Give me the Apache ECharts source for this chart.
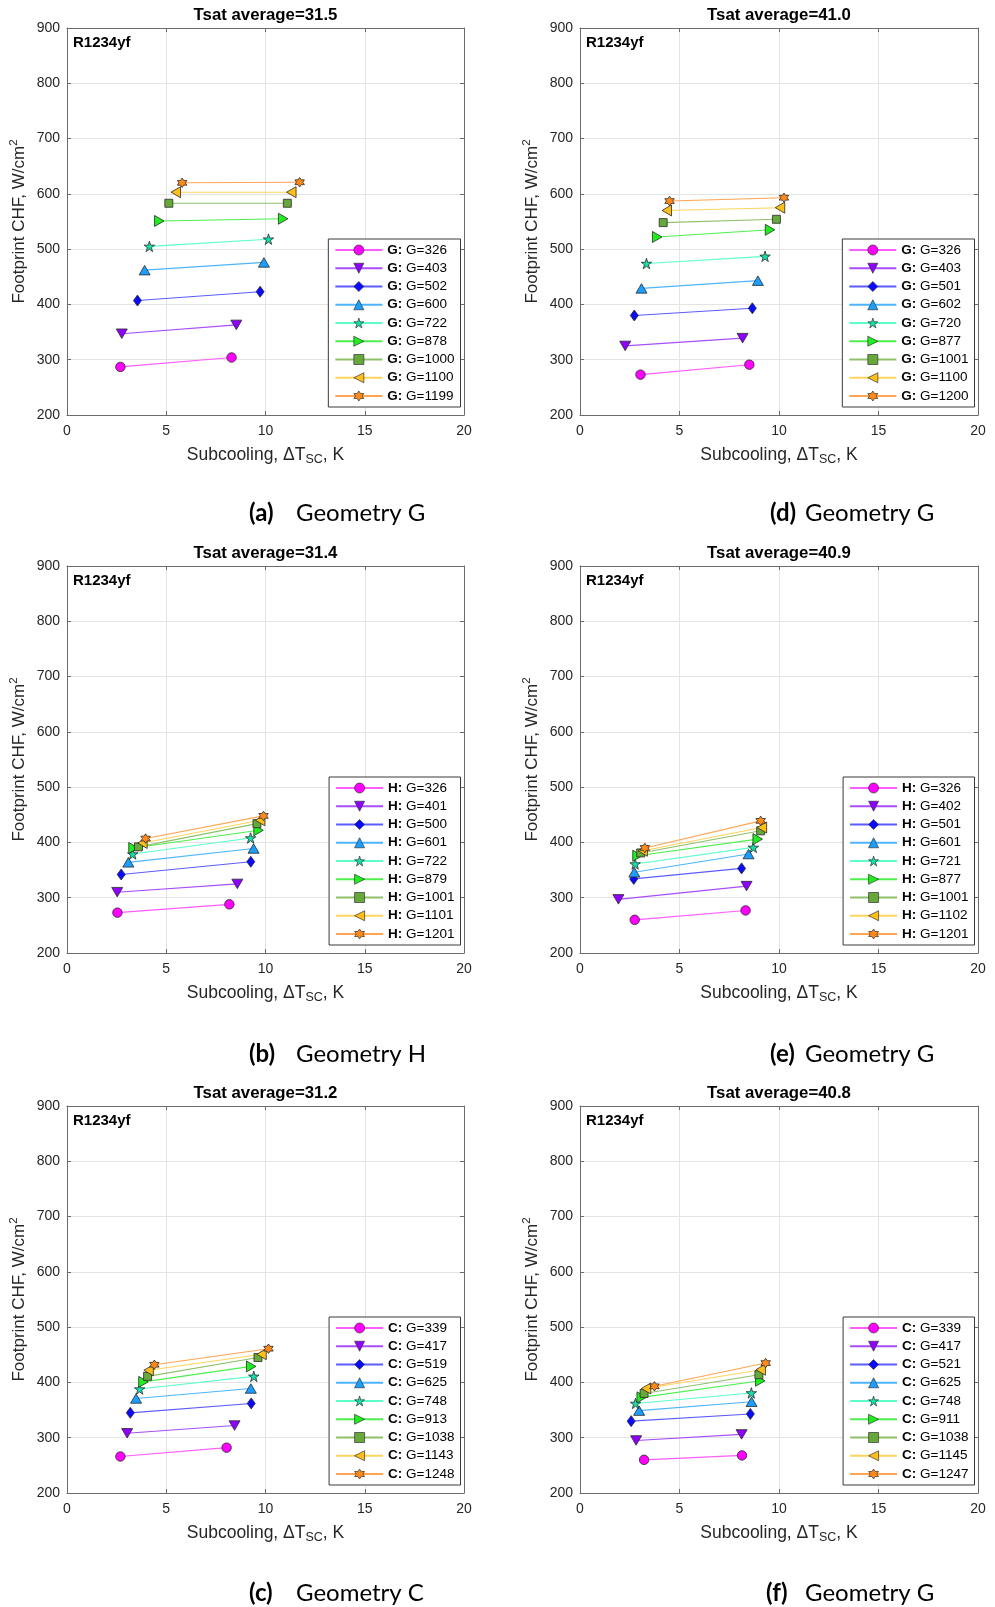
<!DOCTYPE html>
<html>
<head>
<meta charset="utf-8">
<script src="https://cdn.jsdelivr.net/npm/echarts@6/dist/echarts.min.js"></script>
<style>
html,body{margin:0;padding:0;background:#fff;}
#chart{width:995px;height:1607px;}
</style>
</head>
<body>
<div id="chart"></div>
<script>
// ---------------- DATA ----------------
// Panel (a): Geometry G, Tsat average = 31.5
const gA     = [326, 403, 502, 600, 722, 878, 1000, 1100, 1199];
const xLowA  = [2.69, 2.76, 3.55, 3.91, 4.15, 4.65, 5.13, 5.48, 5.80];
const yLowA  = [287, 347, 407, 462, 505, 551, 583, 603, 620];
const xHighA = [8.29, 8.53, 9.73, 9.92, 10.15, 10.89, 11.10, 11.30, 11.72];
const yHighA = [304, 363, 423, 476, 518, 555, 583, 603, 621];

// Panel (d): Geometry G, Tsat average = 41.0
const gD     = [326, 403, 501, 602, 720, 877, 1001, 1100, 1200];
const xLowD  = [3.04, 2.27, 2.73, 3.09, 3.34, 3.88, 4.18, 4.36, 4.50];
const yLowD  = [273, 325, 380, 429, 474, 522, 548, 570, 587];
const xHighD = [8.51, 8.17, 8.66, 8.94, 9.30, 9.55, 9.87, 10.05, 10.25];
const yHighD = [291, 339, 393, 443, 487, 535, 554, 575, 593];

// Panel (b): Geometry H, Tsat average = 31.4
const gB     = [326, 401, 500, 601, 722, 879, 1001, 1101, 1201];
const xLowB  = [2.54, 2.53, 2.73, 3.09, 3.31, 3.35, 3.60, 3.80, 3.96];
const yLowB  = [273, 310, 342, 364, 379, 390, 392, 399, 407];
const xHighB = [8.18, 8.58, 9.26, 9.40, 9.25, 9.65, 9.57, 9.73, 9.90];
const yHighB = [288, 325, 365, 389, 408, 422, 434, 440, 448];

// Panel (e): Geometry H, Tsat average = 40.9
const gE     = [326, 402, 501, 601, 721, 877, 1001, 1102, 1201];
const xLowE  = [2.75, 1.93, 2.70, 2.73, 2.77, 2.89, 3.05, 3.15, 3.26];
const yLowE  = [260, 297, 334, 346, 361, 376, 381, 385, 390];
const xHighE = [8.32, 8.37, 8.12, 8.47, 8.71, 8.93, 9.08, 9.14, 9.08];
const yHighE = [277, 321, 353, 379, 391, 406, 421, 427, 439];

// Panel (c): Geometry C, Tsat average = 31.2
const gC     = [339, 417, 519, 625, 748, 913, 1038, 1143, 1248];
const xLowC  = [2.69, 3.03, 3.19, 3.48, 3.66, 3.85, 4.06, 4.11, 4.40];
const yLowC  = [266, 308, 345, 371, 388, 401, 411, 422, 432];
const xHighC = [8.04, 8.44, 9.28, 9.26, 9.41, 9.28, 9.62, 9.80, 10.15];
const yHighC = [282, 322, 362, 389, 411, 429, 445, 451, 461];

// Panel (f): Geometry C, Tsat average = 40.8
const gF     = [339, 417, 521, 625, 748, 911, 1038, 1145, 1247];
const xLowF  = [3.22, 2.82, 2.57, 2.97, 2.79, 3.10, 3.22, 3.32, 3.74];
const yLowF  = [260, 295, 330, 349, 362, 373, 380, 389, 393];
const xHighF = [8.14, 8.12, 8.56, 8.62, 8.61, 9.06, 8.99, 9.08, 9.33];
const yHighF = [268, 306, 343, 365, 381, 403, 414, 423, 435];

const titlesT   = ['Tsat average=31.5', 'Tsat average=41.0', 'Tsat average=31.4', 'Tsat average=40.9', 'Tsat average=31.2', 'Tsat average=40.8'];
const geomCodes = ['G', 'G', 'H', 'H', 'C', 'C'];
const capLabels = ['(a)', '(d)', '(b)', '(e)', '(c)', '(f)'];
const capNames  = ['Geometry G', 'Geometry G', 'Geometry H', 'Geometry G', 'Geometry C', 'Geometry G'];
const fluidLabel = 'R1234yf';
const xTicks = {min: 0, max: 20, step: 5};
const yTicks = {min: 200, max: 900, step: 100};

// ---------------- STYLE ----------------
const markerColors = ['#ff00ff', '#8f00ff', '#0a0aff', '#1a9fff', '#14e0a8', '#1ef01e', '#66a83a', '#ffbf1a', '#ff8a1a'];
const lineColors   = ['#ff5cff', '#a84dff', '#5c5cff', '#4db5ff', '#5cffc8', '#4def4d', '#8fc06a', '#ffd45c', '#ffa452'];
const PENT = 'path://M100,0 L122.45,69.1 L195.1,69.1 L136.3,111.8 L158.8,180.9 L100,138.2 L41.2,180.9 L63.7,111.8 L4.9,69.1 L77.55,69.1 Z';
const HEX  = 'path://M100,0 L128.87,50 L186.6,50 L157.7,100 L186.6,150 L128.87,150 L100,200 L71.13,150 L13.4,150 L42.3,100 L13.4,50 L71.13,50 Z';
const symbols = [
  ['circle', 9.5],
  ['path://M0,0 L100,0 L50,87 Z', [11, 9.5]],
  ['diamond', [8, 11]],
  ['path://M50,0 L100,87 L0,87 Z', [11, 9.5]],
  [PENT, 10.5],
  ['path://M0,0 L87,50 L0,100 Z', [9.5, 11]],
  ['rect', 8],
  ['path://M87,0 L0,50 L87,100 Z', [9.5, 11]],
  [HEX, 9.5]
];

const panels = [
  {g: gA, xl: xLowA, yl: yLowA, xh: xHighA, yh: yHighA},
  {g: gD, xl: xLowD, yl: yLowD, xh: xHighD, yh: yHighD},
  {g: gB, xl: xLowB, yl: yLowB, xh: xHighB, yh: yHighB},
  {g: gE, xl: xLowE, yl: yLowE, xh: xHighE, yh: yHighE},
  {g: gC, xl: xLowC, yl: yLowC, xh: xHighC, yh: yHighC},
  {g: gF, xl: xLowF, yl: yLowF, xh: xHighF, yh: yHighF}
];

const W = 995;
const colLeft = [67, 580];
const colWidth = [397, 398];
const rowTop = [28, 566, 1106];
const plotH = 387;
const capY = [513, 1054, 1593];
const capX1 = [[249, 296], [770, 805], [249, 296], [770, 805], [249, 296], [766, 805]];

const FONT = "'Liberation Sans', Arial, Helvetica, sans-serif";
const CAPFONT = "Lato, 'Open Sans', sans-serif";
const AX = '#6b6b6b';
const TXT = '#262626';

const grids = [], xAxes = [], yAxes = [], series = [], legends = [], graphics = [];
const labelOf = {};

panels.forEach((p, i) => {
  const col = i % 2, row = Math.floor(i / 2);
  const left = colLeft[col], top = rowTop[row], width = colWidth[col];
  grids.push({left: left, top: top, width: width, height: plotH, show: false});
  const common = {
    type: 'value', gridIndex: i,
    axisLine: {show: true, onZero: false, lineStyle: {color: AX, width: 1}},
    axisTick: {show: true, inside: true, length: 4, lineStyle: {color: AX}},
  };
  xAxes.push(Object.assign({}, common, {
    position: 'bottom', min: xTicks.min, max: xTicks.max, interval: xTicks.step,
    axisLabel: {fontSize: 14, color: TXT, fontFamily: FONT, margin: 9},
    splitLine: {show: true, lineStyle: {color: '#e4e4e4', width: 1}},
    name: '{n|Subcooling, ΔT}{s|SC}{n|, K}', nameLocation: 'middle', nameGap: 29,
    nameTextStyle: {
      rich: {
        n: {fontSize: 17.5, color: TXT, fontFamily: FONT, lineHeight: 22, verticalAlign: 'middle'},
        s: {fontSize: 12.5, color: TXT, fontFamily: FONT, lineHeight: 22, verticalAlign: 'bottom'}
      }
    }
  }));
  xAxes.push(Object.assign({}, common, {
    position: 'top', min: xTicks.min, max: xTicks.max, interval: xTicks.step,
    axisLabel: {show: false}, splitLine: {show: false}
  }));
  yAxes.push(Object.assign({}, common, {
    position: 'left', min: yTicks.min, max: yTicks.max, interval: yTicks.step,
    axisLabel: {fontSize: 14, color: TXT, fontFamily: FONT, margin: 7},
    splitLine: {show: true, lineStyle: {color: '#e4e4e4', width: 1}},
    name: '{n|Footprint CHF, W/cm}{p|2}', nameLocation: 'middle', nameGap: 37,
    nameTextStyle: {
      rich: {
        n: {fontSize: 17, color: TXT, fontFamily: FONT, lineHeight: 22, verticalAlign: 'middle'},
        p: {fontSize: 11.5, color: TXT, fontFamily: FONT, lineHeight: 22, verticalAlign: 'top'}
      }
    }
  }));
  yAxes.push(Object.assign({}, common, {
    position: 'right', min: yTicks.min, max: yTicks.max, interval: yTicks.step,
    axisLabel: {show: false}, splitLine: {show: false}
  }));

  const names = [];
  p.g.forEach((gv, k) => {
    const nm = 'p' + i + '_' + k;
    names.push(nm);
    labelOf[nm] = '{b|' + geomCodes[i] + ':}{r| G=' + gv + '}';
    series.push({
      type: 'line', name: nm,
      xAxisIndex: 2 * i, yAxisIndex: 2 * i,
      data: [[p.xl[k], p.yl[k]], [p.xh[k], p.yh[k]]],
      symbol: symbols[k][0], symbolSize: symbols[k][1],
      itemStyle: {color: markerColors[k], borderColor: '#2a2a2a', borderWidth: 0.8},
      lineStyle: {color: lineColors[k], width: 1.1},
      emphasis: {disabled: true},
      animation: false
    });
  });

  legends.push({
    data: names, orient: 'vertical',
    right: W - (left + width) + 3.5,
    top: top + 211,
    itemWidth: 47, itemHeight: 12.5, itemGap: 4.25,
    padding: [4, 6, 4, 6],
    backgroundColor: '#ffffff', borderColor: '#3a3a3a', borderWidth: 1, borderRadius: 0,
    selectedMode: false,
    itemStyle: {borderWidth: 0.7, borderColor: '#333'},
    formatter: (n) => labelOf[n],
    textStyle: {
      fontSize: 13.5, color: '#000', fontFamily: FONT, lineHeight: 14,
      rich: {
        b: {fontSize: 13.5, fontWeight: 'bold', color: '#000', fontFamily: FONT, lineHeight: 14},
        r: {fontSize: 13.5, color: '#000', fontFamily: FONT, lineHeight: 14}
      }
    }
  });

  // Panel title
  graphics.push({
    type: 'text', x: left + width / 2, y: top - 13, z: 10,
    style: {text: titlesT[i], font: 'bold 16.8px ' + FONT, fill: '#000', textAlign: 'center', textVerticalAlign: 'middle'}
  });
  // Fluid label
  graphics.push({
    type: 'text', x: left + 6, y: top + 15, z: 10,
    style: {text: fluidLabel, font: 'bold 15px ' + FONT, fill: '#000', textAlign: 'left', textVerticalAlign: 'middle'}
  });
  // Caption
  graphics.push({
    type: 'text', x: capX1[i][0], y: capY[row], z: 10,
    style: {text: capLabels[i], font: 'bold 24px ' + CAPFONT, fill: '#000', textAlign: 'left', textVerticalAlign: 'middle'}
  });
  graphics.push({
    type: 'text', x: capX1[i][1], y: capY[row], z: 10,
    style: {text: capNames[i], font: '24px ' + CAPFONT, fill: '#000', textAlign: 'left', textVerticalAlign: 'middle'}
  });
});

const chart = echarts.init(document.getElementById('chart'), null, {renderer: 'canvas'});
chart.setOption({
  backgroundColor: '#ffffff',
  animation: false,
  grid: grids,
  xAxis: xAxes,
  yAxis: yAxes,
  legend: legends,
  series: series,
  graphic: graphics
});
</script>
</body>
</html>
